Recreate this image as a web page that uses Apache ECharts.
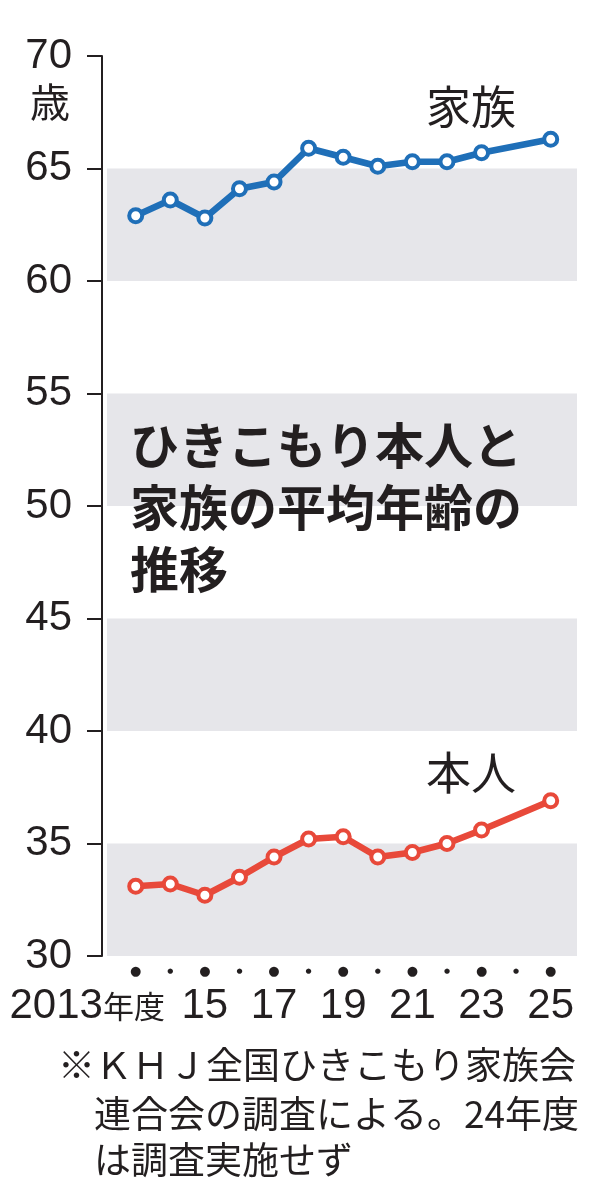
<!DOCTYPE html>
<html>
<head>
<meta charset="utf-8">
<script src="https://cdn.jsdelivr.net/npm/echarts@6/dist/echarts.min.js"></script>
<style>
  html, body { margin: 0; padding: 0; background: #fff; }
  #chart { width: 600px; height: 1200px; }
</style>
</head>
<body>
<div id="chart"></div>
<script>
// 年度 (24年度は調査なし)
var years = [2013, 2014, 2015, 2016, 2017, 2018, 2019, 2020, 2021, 2022, 2023, 2025];
var familyAge = [62.9, 63.6, 62.8, 64.1, 64.4, 65.9, 65.5, 65.1, 65.3, 65.3, 65.7, 66.3];
var selfAge   = [33.1, 33.2, 32.7, 33.5, 34.4, 35.2, 35.3, 34.4, 34.6, 35.0, 35.6, 36.9];

var dotYears   = [2013, 2014, 2015, 2016, 2017, 2018, 2019, 2020, 2021, 2022, 2023, 2024, 2025];
var labelYears = [2013, 2015, 2017, 2019, 2021, 2023, 2025];

var yMin = 30, yMax = 70, yStep = 5;

var BLUE = '#1f6fb8';
var RED = '#e8493a';
var INK = '#231f20';
var NUM_FONT = '"Liberation Sans", Arial, sans-serif';
var JP_FONT = '"Noto Sans CJK JP", "Noto Sans", sans-serif';

function pairs(xs, ys) {
	var out = [];
	for (var i = 0; i < xs.length; i++) out.push([xs[i], ys[i]]);
	return out;
}

var myChart = echarts.init(document.getElementById('chart'));

var option = {
	animation: false,
	backgroundColor: '#fff',
	grid: { left: 107, right: 23, top: 56, bottom: 244 },
	xAxis: [
		{ // 年ごとの点
			type: 'value', min: 2012.17, max: 2025.76,
			axisLine: { show: false }, axisTick: { show: false }, splitLine: { show: false },
			axisLabel: {
				customValues: dotYears,
				margin: 9,
				formatter: function (v) { return (v % 2 === 1) ? '{b|●}' : '{s|●}'; },
				rich: {
					b: { fontSize: 13, color: INK, fontFamily: 'DejaVu Sans' },
					s: { fontSize: 7, color: INK, fontFamily: 'DejaVu Sans', padding: [3, 0, 0, 0] }
				}
			}
		},
		{ // 年度ラベル
			type: 'value', min: 2012.17, max: 2025.76, position: 'bottom',
			axisLine: { show: false }, axisTick: { show: false }, splitLine: { show: false },
			axisLabel: {
				customValues: labelYears,
				margin: 29,
				formatter: function (v) {
					if (v === 2013) return '{f|2013}{k|年度}';
					return '{n|' + String(v).slice(2) + '}';
				},
				rich: {
					n: { fontSize: 42, color: INK, fontFamily: NUM_FONT },
					f: { fontSize: 42, color: INK, fontFamily: NUM_FONT },
					k: { fontSize: 31, color: INK, fontFamily: JP_FONT, padding: [0, 97, 0, 0] }
				}
			}
		}
	],
	yAxis: {
		type: 'value', min: yMin, max: yMax, interval: yStep,
		offset: 5,
		axisLine: { show: true, lineStyle: { color: INK, width: 2 } },
		axisTick: { show: true, length: 15, lineStyle: { color: INK, width: 2 } },
		axisLabel: { margin: 30, fontSize: 42, color: INK, fontFamily: NUM_FONT },
		splitLine: { show: false },
		splitArea: { show: true, areaStyle: { color: ['#e6e6ea', 'rgba(255,255,255,0)'] } }
	},
	series: [
		{
			name: '家族', type: 'line', data: pairs(years, familyAge),
			symbol: 'circle', symbolSize: 13,
			lineStyle: { color: BLUE, width: 6.5 },
			itemStyle: { color: '#fff', borderColor: BLUE, borderWidth: 4 }
		},
		{
			name: '本人', type: 'line', data: pairs(years, selfAge),
			symbol: 'circle', symbolSize: 13,
			lineStyle: { color: RED, width: 6.5 },
			itemStyle: { color: '#fff', borderColor: RED, borderWidth: 4 }
		}
	],
	graphic: [
		{ type: 'text', z: 100, left: 30, top: 82, style: { text: '歳', font: '40px ' + JP_FONT, fill: INK } },
		{ type: 'text', z: 100, left: 426, top: 84, style: { text: '家族', font: '45px ' + JP_FONT, fill: INK } },
		{ type: 'text', z: 100, left: 426, top: 750, style: { text: '本人', font: '45px ' + JP_FONT, fill: INK } },
		{
			type: 'text', z: 100, left: 130, top: 414,
			style: {
				text: 'ひきこもり本人と\n家族の平均年齢の\n推移',
				font: 'bold 49px ' + JP_FONT, lineHeight: 62, fill: INK
			}
		},
		{ type: 'text', z: 100, left: 58, top: 1046, style: { text: '※ＫＨＪ全国ひきこもり家族会', font: '37px ' + JP_FONT, fill: INK } },
		{
			type: 'text', z: 100, left: 94, top: 1091,
			style: { text: '連合会の調査による。24年度\nは調査実施せず', font: '37px ' + JP_FONT, lineHeight: 46, fill: INK }
		}
	]
};

myChart.setOption(option);
</script>
</body>
</html>
